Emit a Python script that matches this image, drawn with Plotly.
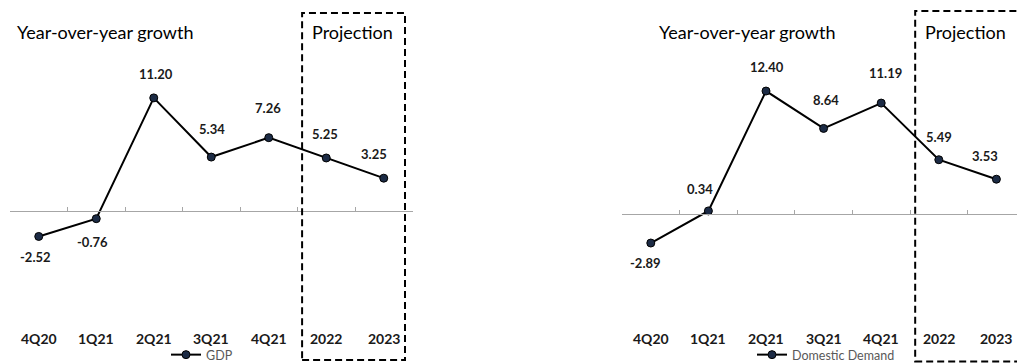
import plotly.graph_objects as go

# Categories and growth values (%)
quarters = ["4Q20", "1Q21", "2Q21", "3Q21", "4Q21", "2022", "2023"]
gdp_growth = [-2.52, -0.76, 11.20, 5.34, 7.26, 5.25, 3.25]
demand_growth = [-2.89, 0.34, 12.40, 8.64, 11.19, 5.49, 3.53]
panel_title = "Year-over-year growth"
projection_label = "Projection"

# Label offsets in pixels (x, y) relative to each point
gdp_label_shift = [(-3, -21), (-4, -23), (2, 24), (1, 28), (-1, 30), (-1, 24), (-10, 24)]
dd_label_shift = [(-5, -20), (-8, 22), (1, 24), (2, 28), (4, 30), (0, 23), (-11, 23)]

W, H = 1017, 363
FONT = "Lato"
LINE = "#000000"
MARKER = "#1c2b45"

fig = go.Figure()
idx = list(range(len(quarters)))

fig.add_trace(go.Scatter(
    x=idx, y=gdp_growth, mode="lines+markers", name="GDP",
    line=dict(color=LINE, width=2),
    marker=dict(size=8, color=MARKER, line=dict(color="#000000", width=1)),
    xaxis="x", yaxis="y", legend="legend", cliponaxis=False,
))
fig.add_trace(go.Scatter(
    x=idx, y=demand_growth, mode="lines+markers", name="Domestic Demand",
    line=dict(color=LINE, width=2),
    marker=dict(size=8, color=MARKER, line=dict(color="#000000", width=1)),
    xaxis="x2", yaxis="y2", legend="legend2", cliponaxis=False,
))

annotations = []
for xa, ya, vals, shifts in (("x", "y", gdp_growth, gdp_label_shift),
                             ("x2", "y2", demand_growth, dd_label_shift)):
    for i, (v, (dx, dy)) in enumerate(zip(vals, shifts)):
        annotations.append(dict(
            x=i, y=v, xref=xa, yref=ya, text=f"<b>{v:.2f}</b>",
            showarrow=False, xshift=dx, yshift=dy,
            font=dict(family=FONT, size=13, color="#1a1a1a"),
        ))

# Panel headings
for x_px, txt in ((15, panel_title), (310, projection_label),
                  (657, panel_title), (923, projection_label)):
    annotations.append(dict(
        x=x_px / W, y=1 - 32 / H, xref="paper", yref="paper",
        xanchor="left", yanchor="middle", text=txt, showarrow=False,
        font=dict(family=FONT, size=18, color="#000000"),
    ))

# Category labels along the bottom of each panel
for xa in ("x", "x2"):
    for i, q in enumerate(quarters):
        annotations.append(dict(
            x=i, y=1 - 338 / H, xref=xa, yref="paper",
            text=f"<b>{q}</b>", showarrow=False, yanchor="middle",
            font=dict(family=FONT, size=14, color="#1a1a1a"),
        ))
fig.update_layout(annotations=annotations)

# Dashed projection frames
dash = "7px,4px"
fig.add_shape(type="rect", xref="x", yref="paper", x0=4.58, x1=6.37,
              y0=1 - 360 / H, y1=1 - 13 / H,
              line=dict(color="#000000", width=2, dash=dash))
fig.add_shape(type="rect", xref="x2", yref="paper", x0=4.59, x1=7.2,
              y0=1 - 361.5 / H, y1=1 - 11 / H,
              line=dict(color="#000000", width=2, dash=dash))

axis_common = dict(
    type="linear", showgrid=False, zeroline=False, showline=True,
    linecolor="#a6a6a6", linewidth=1, ticks="inside", ticklen=4,
    tickcolor="#a6a6a6", tickmode="array",
    anchor="free", fixedrange=True,
)

# Tick marks sit on the category boundaries
boundaries = [i - 0.5 for i in range(len(quarters) + 1)]

legend_font = dict(family=FONT, size=12.5, color="#595959")

fig.update_layout(
    width=W, height=H,
    margin=dict(l=0, r=0, t=0, b=0, autoexpand=False),
    paper_bgcolor="white", plot_bgcolor="white",
    xaxis=dict(domain=[10 / W, 412.5 / W], range=[-0.5, 6.5],
               position=(H - 211) / H, tickvals=boundaries,
               ticktext=[""] * len(boundaries), **axis_common),
    xaxis2=dict(domain=[622 / W, 1.0], range=[-0.5, -0.5 + (W - 622) / 57.6],
                position=(H - 214.3) / H, tickvals=boundaries,
                ticktext=[""] * len(boundaries), **axis_common),
    yaxis=dict(domain=[0, 1], range=[-(H - 211) / 10.1, 211 / 10.1],
               visible=False, fixedrange=True),
    yaxis2=dict(domain=[0, 1], range=[-(H - 214.3) / 9.94, 214.3 / 9.94],
                visible=False, fixedrange=True),
    legend=dict(x=166 / W, y=1 - 355 / H, xanchor="left", yanchor="middle",
                font=legend_font, bgcolor="rgba(0,0,0,0)", itemwidth=30),
    legend2=dict(x=752 / W, y=1 - 355 / H, xanchor="left", yanchor="middle",
                 font=legend_font, bgcolor="rgba(0,0,0,0)", itemwidth=30),
    showlegend=True,
)

fig.write_html("out.html")
